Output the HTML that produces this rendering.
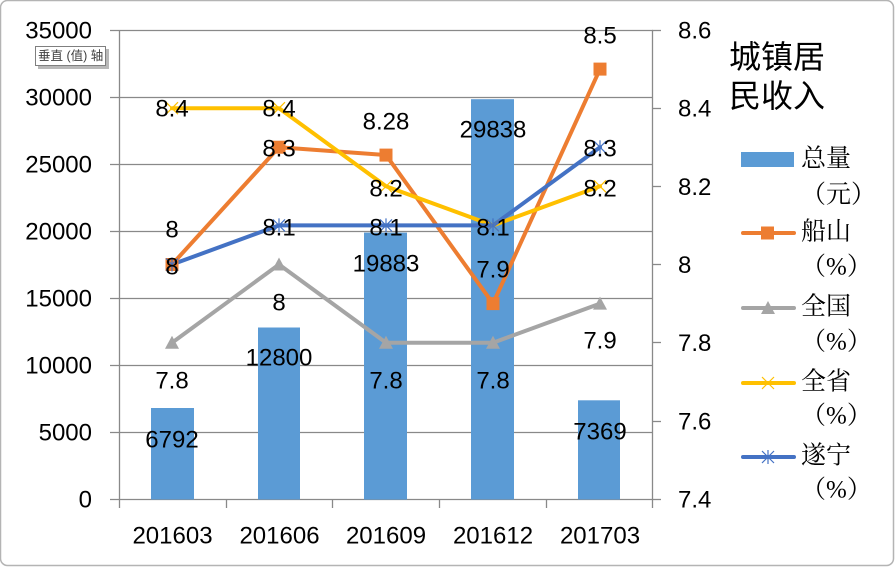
<!DOCTYPE html>
<html>
<head>
<meta charset="utf-8">
<style>
html,body{margin:0;padding:0;background:#fff;}
body{width:896px;height:568px;overflow:hidden;}
svg{display:block;}
.n{font-family:"Liberation Sans",sans-serif;font-size:24px;fill:#000;}
.cj{font-family:"Liberation Serif","Noto Serif CJK SC",serif;font-size:25px;fill:#000;}
.tt{font-family:"Liberation Sans","Noto Sans CJK SC",sans-serif;font-size:32px;fill:#000;}
</style>
</head>
<body>
<svg width="896" height="568" viewBox="0 0 896 568" xmlns="http://www.w3.org/2000/svg">
  <!-- outer border -->
  <rect x="0.5" y="0.5" width="893" height="565" rx="7" ry="7" fill="#fff" stroke="#b4b4b4" stroke-width="1.5"/>

  <!-- gridlines (left axis) -->
  <g stroke="#898989" stroke-width="1.3">
    <line x1="110" y1="30.5" x2="653" y2="30.5"/>
    <line x1="110" y1="97.5" x2="653" y2="97.5"/>
    <line x1="110" y1="164.5" x2="653" y2="164.5"/>
    <line x1="110" y1="231.5" x2="653" y2="231.5"/>
    <line x1="110" y1="298.5" x2="653" y2="298.5"/>
    <line x1="110" y1="365.5" x2="653" y2="365.5"/>
    <line x1="110" y1="432.5" x2="653" y2="432.5"/>
    <line x1="110" y1="499.5" x2="653" y2="499.5"/>
    <!-- axes -->
    <line x1="119.5" y1="30" x2="119.5" y2="508"/>
    <line x1="652.5" y1="30" x2="652.5" y2="508"/>
    <!-- category ticks -->
    <line x1="226.5" y1="499" x2="226.5" y2="508"/>
    <line x1="332.5" y1="499" x2="332.5" y2="508"/>
    <line x1="439.5" y1="499" x2="439.5" y2="508"/>
    <line x1="546.5" y1="499" x2="546.5" y2="508"/>
    <!-- right axis ticks -->
    <line x1="652" y1="30.5" x2="661" y2="30.5"/>
    <line x1="652" y1="108.5" x2="661" y2="108.5"/>
    <line x1="652" y1="186.5" x2="661" y2="186.5"/>
    <line x1="652" y1="264.5" x2="661" y2="264.5"/>
    <line x1="652" y1="342.5" x2="661" y2="342.5"/>
    <line x1="652" y1="421.5" x2="661" y2="421.5"/>
    <line x1="652" y1="499.5" x2="661" y2="499.5"/>
  </g>

  <!-- bars -->
  <g fill="#5B9BD5">
    <rect x="151" y="408" width="43" height="91.5"/>
    <rect x="258" y="327.5" width="42" height="172"/>
    <rect x="364" y="232.6" width="43" height="267"/>
    <rect x="471" y="99.2" width="43" height="400.3"/>
    <rect x="578" y="400.3" width="42" height="99.2"/>
  </g>

  <!-- lines -->
  <g fill="none" stroke-width="4" stroke-linejoin="round" stroke-linecap="round">
    <polyline stroke="#ED7D31" points="172,264.5 279,147.2 386,155.1 493,303.6 600,69.1"/>
    <polyline stroke="#A5A5A5" points="172,342.7 279,264.5 386,342.7 493,342.7 600,303.6"/>
    <polyline stroke="#FFC000" points="172,108.2 279,108.2 386,186.3 493,225.4 600,186.3"/>
    <polyline stroke="#4472C4" points="172,264.5 279,225.4 386,225.4 493,225.4 600,147.2"/>
  </g>

  <!-- markers: 船山 squares -->
  <g fill="#ED7D31">
    <rect x="165.5" y="258" width="13" height="13"/>
    <rect x="272.5" y="140.7" width="13" height="13"/>
    <rect x="379.5" y="148.6" width="13" height="13"/>
    <rect x="486.5" y="297.1" width="13" height="13"/>
    <rect x="593.5" y="62.6" width="13" height="13"/>
  </g>
  <!-- 全国 triangles -->
  <g fill="#A5A5A5">
    <polygon points="172,335.7 179,348.7 165,348.7"/>
    <polygon points="279,257.5 286,270.5 272,270.5"/>
    <polygon points="386,335.7 393,348.7 379,348.7"/>
    <polygon points="493,335.7 500,348.7 486,348.7"/>
    <polygon points="600,296.6 607,309.6 593,309.6"/>
  </g>
  <!-- 全省 X markers -->
  <g stroke="#FFC000" stroke-width="1.2">
    <path d="M166,102.2 L178,114.2 M178,102.2 L166,114.2"/>
    <path d="M273,102.2 L285,114.2 M285,102.2 L273,114.2"/>
    <path d="M380,180.3 L392,192.3 M392,180.3 L380,192.3"/>
    <path d="M487,219.4 L499,231.4 M499,219.4 L487,231.4"/>
    <path d="M594,180.3 L606,192.3 M606,180.3 L594,192.3"/>
  </g>
  <!-- 遂宁 star markers -->
  <g stroke="#4472C4" stroke-width="1.2">
    <path d="M166,258.5 L178,270.5 M178,258.5 L166,270.5 M172,257.5 L172,271.5"/>
    <path d="M273,219.4 L285,231.4 M285,219.4 L273,231.4 M279,218.4 L279,232.4"/>
    <path d="M380,219.4 L392,231.4 M392,219.4 L380,231.4 M386,218.4 L386,232.4"/>
    <path d="M487,219.4 L499,231.4 M499,219.4 L487,231.4 M493,218.4 L493,232.4"/>
    <path d="M594,141.2 L606,153.2 M606,141.2 L594,153.2 M600,140.2 L600,154.2"/>
  </g>

  <!-- data labels -->
  <g class="n" text-anchor="middle">
    <!-- bars -->
    <text x="172" y="447.5">6792</text>
    <text x="279" y="365.5">12800</text>
    <text x="386" y="271.5">19883</text>
    <text x="493" y="137.5">29838</text>
    <text x="600" y="439.5">7369</text>
    <!-- 船山 -->
    <text x="172" y="274.5">8</text>
    <text x="279" y="156.5">8.3</text>
    <text x="386" y="129.5">8.28</text>
    <text x="493" y="277.5">7.9</text>
    <text x="600" y="43.5">8.5</text>
    <!-- 全国 -->
    <text x="172" y="388.5">7.8</text>
    <text x="279" y="310.5">8</text>
    <text x="386" y="388.5">7.8</text>
    <text x="493" y="388.5">7.8</text>
    <text x="600" y="348.5">7.9</text>
    <!-- 全省 -->
    <text x="172" y="116.5">8.4</text>
    <text x="279" y="116.5">8.4</text>
    <text x="386" y="196.5">8.2</text>
    <text x="493" y="235.5">8.1</text>
    <text x="600" y="196.5">8.2</text>
    <!-- 遂宁 -->
    <text x="172" y="237.5">8</text>
    <text x="279" y="235.5">8.1</text>
    <text x="386" y="235.5">8.1</text>
    <text x="600" y="156.5">8.3</text>
  </g>

  <!-- left axis labels -->
  <g class="n" text-anchor="end">
    <text x="92" y="38.5">35000</text>
    <text x="92" y="105.5">30000</text>
    <text x="92" y="172.5">25000</text>
    <text x="92" y="239.5">20000</text>
    <text x="92" y="306.5">15000</text>
    <text x="92" y="373.5">10000</text>
    <text x="92" y="440.5">5000</text>
    <text x="92" y="507.5">0</text>
  </g>

  <!-- right axis labels -->
  <g class="n">
    <text x="678" y="38.5">8.6</text>
    <text x="678" y="116.5">8.4</text>
    <text x="678" y="195">8.2</text>
    <text x="678" y="273">8</text>
    <text x="678" y="351">7.8</text>
    <text x="678" y="429.5">7.6</text>
    <text x="678" y="507.5">7.4</text>
  </g>

  <!-- category labels -->
  <g class="n" text-anchor="middle">
    <text x="172.5" y="543.5">201603</text>
    <text x="279.5" y="543.5">201606</text>
    <text x="386" y="543.5">201609</text>
    <text x="493" y="543.5">201612</text>
    <text x="600" y="543.5">201703</text>
  </g>

  <!-- title -->
  <g class="tt" dominant-baseline="central">
    <text x="729" y="57">城镇居</text>
    <text x="729" y="96">民收入</text>
  </g>

  <!-- legend -->
  <rect x="741" y="152" width="53" height="15" fill="#5B9BD5"/>
  <line x1="743" y1="233" x2="794" y2="233" stroke="#ED7D31" stroke-width="4" stroke-linecap="round"/>
  <rect x="761" y="226.5" width="13" height="13" fill="#ED7D31"/>
  <line x1="743" y1="308" x2="794" y2="308" stroke="#A5A5A5" stroke-width="4" stroke-linecap="round"/>
  <polygon points="768,301 775,314 761,314" fill="#A5A5A5"/>
  <line x1="743" y1="383" x2="794" y2="383" stroke="#FFC000" stroke-width="4" stroke-linecap="round"/>
  <path d="M762,377 L774,389 M774,377 L762,389" stroke="#FFC000" stroke-width="1.2"/>
  <line x1="743" y1="457" x2="794" y2="457" stroke="#4472C4" stroke-width="4" stroke-linecap="round"/>
  <path d="M762,451 L774,463 M774,451 L762,463 M768,450 L768,464" stroke="#4472C4" stroke-width="1.2"/>

  <g class="cj" dominant-baseline="central">
    <text x="801" y="159">总量</text>
    <text x="801" y="195">（元）</text>
    <text x="801" y="232">船山</text>
    <text x="801" y="267">（%）</text>
    <text x="801" y="307">全国</text>
    <text x="801" y="342">（%）</text>
    <text x="801" y="382">全省</text>
    <text x="801" y="416">（%）</text>
    <text x="801" y="456">遂宁</text>
    <text x="801" y="490">（%）</text>
  </g>

  <!-- tooltip -->
  <rect x="38" y="49" width="71" height="20" fill="#9a9a9a" opacity="0.7"/>
  <rect x="35.5" y="46.5" width="70" height="19" fill="#fff" stroke="#7f7f7f" stroke-width="1"/>
  <text x="38" y="56" dominant-baseline="central" font-family="'Liberation Sans','Noto Sans CJK SC',sans-serif" font-size="12.5" fill="#404040">垂直 (值) 轴</text>
</svg>
</body>
</html>
